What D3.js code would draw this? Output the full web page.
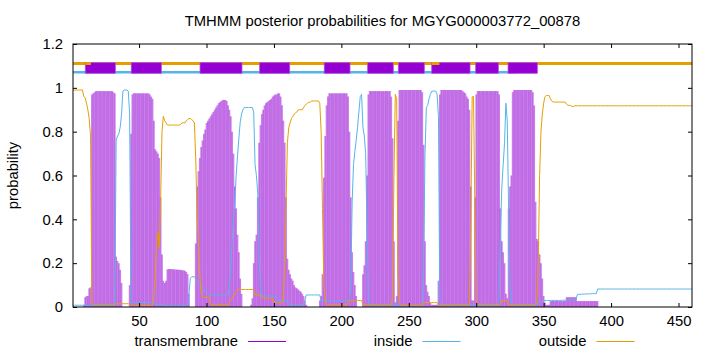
<!DOCTYPE html>
<html><head><meta charset="utf-8">
<script src="https://cdn.jsdelivr.net/npm/d3@7"></script>
<style>
body{margin:0;background:#fff}
svg{display:block}
text{font-family:"Liberation Sans",Arial,Helvetica,sans-serif;fill:#000}
</style>
</head><body>
<svg id="chart" width="720" height="352"></svg>
<script>
// ---------------- data ----------------
const title = "TMHMM posterior probabilities for MGYG000003772_00878";
const yLabel = "probability";
const seriesNames = ["transmembrane", "inside", "outside"];
const xTicks = [50, 100, 150, 200, 250, 300, 350, 400, 450];
const yTicks = [0, 0.2, 0.4, 0.6, 0.8, 1, 1.2];
const yTickLabels = ["0", "0.2", "0.4", "0.6", "0.8", "1", "1.2"];
const xDomain = [1, 460];

// posterior probability of transmembrane, residues 1..460
const tmProb = [
0,0,0,0,0,0,0,0,0.01,0.045,
0.05,0.05,0.085,0.09,0.97,0.975,0.98,0.985,0.985,0.985,
0.985,0.985,0.985,0.985,0.985,0.985,0.985,0.985,0.985,0.985,
0.98,0.975,0.23,0.21,0.2,0.17,0.11,0,0,0,
0,0,0.1,0.79,0.97,0.975,0.975,0.975,0.975,0.975,
0.975,0.975,0.975,0.975,0.975,0.975,0.975,0.97,0.96,0.95,
0.85,0.72,0.71,0.7,0.68,0.5,0.24,0.12,0.11,0.12,
0.172,0.173,0.173,0.173,0.172,0.172,0.171,0.171,0.17,0.17,
0.169,0.168,0.167,0.165,0.16,0.15,0.06,0,0,0,
0,0.29,0.55,0.62,0.68,0.73,0.76,0.79,0.81,0.84,
0.85,0.86,0.87,0.88,0.89,0.9,0.91,0.92,0.93,0.935,
0.94,0.945,0.945,0.945,0.94,0.92,0.9,0.87,0.8,0.7,
0.55,0.45,0.33,0.25,0.13,0.06,0,0,0,0,
0,0,0.01,0.04,0.2,0.3,0.33,0.5,0.75,0.83,
0.88,0.9,0.92,0.93,0.935,0.94,0.945,0.95,0.96,0.965,
0.97,0.97,0.975,0.975,0.96,0.92,0.85,0.75,0.5,0.22,
0.17,0.15,0.13,0.12,0.1,0.09,0.085,0.08,0.075,0.07,
0.06,0.05,0.03,0.01,0,0,0,0,0,0,
0,0,0,0.03,0.05,0.15,0.59,0.78,0.92,0.96,
0.975,0.975,0.975,0.975,0.975,0.975,0.975,0.975,0.975,0.975,
0.975,0.975,0.975,0.975,0.96,0.8,0.5,0.25,0.16,0.1,
0.05,0,0,0,0,0.15,0.19,0.3,0.6,0.97,
0.985,0.985,0.985,0.985,0.985,0.985,0.985,0.985,0.985,0.985,
0.985,0.985,0.985,0.985,0.985,0.985,0.96,0.77,0.3,0.02,
0.05,0.85,0.99,0.99,0.99,0.99,0.99,0.99,0.99,0.99,
0.99,0.99,0.99,0.99,0.99,0.99,0.99,0.99,0.99,0.98,
0.74,0.3,0.1,0.07,0.05,0.02,0.01,0.01,0.01,0.01,
0.01,0.12,0.97,0.99,0.99,0.99,0.99,0.99,0.99,0.99,
0.99,0.99,0.99,0.99,0.99,0.99,0.99,0.99,0.99,0.985,
0.98,0.975,0.96,0.95,0.9,0.55,0.03,0.03,0.5,0.97,
0.985,0.985,0.985,0.985,0.985,0.985,0.985,0.985,0.985,0.985,
0.985,0.985,0.985,0.985,0.985,0.985,0.97,0.45,0.3,0.25,
0.2,0.06,0.04,0.45,0.55,0.6,0.98,0.99,0.99,0.99,
0.99,0.99,0.99,0.99,0.99,0.99,0.99,0.99,0.99,0.99,
0.99,0.98,0.92,0.48,0.31,0.3,0.24,0.2,0.13,0.05,
0.02,0.01,0.01,0.01,0.027,0.027,0.027,0.027,0.027,0.027,
0.027,0.027,0.027,0.027,0.027,0.027,0.045,0.045,0.045,0.045,
0.045,0.045,0.045,0.045,0.027,0.027,0.027,0.027,0.027,0.027,
0.027,0.027,0.027,0.027,0.027,0.027,0.027,0.027,0.027,0.027,
0,0,0,0,0,0,0,0,0,0,
0,0,0,0,0,0,0,0,0,0,
0,0,0,0,0,0,0,0,0,0,
0,0,0,0,0,0,0,0,0,0,
0,0,0,0,0,0,0,0,0,0,
0,0,0,0,0,0,0,0,0,0,
0,0,0,0,0,0,0,0,0,0
];

// posterior probability of inside, residues 1..460
const insideProb = [
0.008,0.008,0.008,0.008,0.008,0.008,0.008,0.008,0.008,0.008,
0.008,0.008,0.008,0.008,0.008,0.008,0.008,0.008,0.008,0.008,
0.008,0.008,0.008,0.008,0.008,0.008,0.008,0.008,0.008,0.008,
0.008,0.01,0.76,0.78,0.79,0.82,0.88,0.985,0.99,0.99,
0.99,0.985,0.88,0.02,0.02,0.02,0.02,0.02,0.02,0.02,
0.02,0.02,0.02,0.02,0.02,0.02,0.02,0.02,0.02,0.02,
0.02,0.012,0.012,0.012,0.012,0.012,0.012,0.006,0.006,0.006,
0.006,0.006,0.006,0.006,0.006,0.006,0.006,0.006,0.006,0.006,
0.006,0.006,0.006,0.006,0.006,0.006,0.06,0.13,0.138,0.138,
0.138,0.13,0.12,0.11,0.1,0.09,0.085,0.08,0.07,0.065,
0.06,0.055,0.055,0.055,0.055,0.055,0.055,0.055,0.055,0.055,
0.055,0.055,0.055,0.055,0.055,0.055,0.1,0.18,0.3,0.4,
0.48,0.6,0.69,0.77,0.845,0.88,0.9,0.91,0.91,0.91,
0.91,0.91,0.91,0.91,0.89,0.65,0.6,0.52,0.23,0.08,
0.05,0.05,0.05,0.05,0.05,0.05,0.05,0.05,0.05,0.05,
0.05,0.03,0.03,0.03,0.03,0.03,0.03,0.03,0.03,0.03,
0.01,0.01,0.01,0.01,0.01,0.01,0.01,0.01,0.01,0.01,
0.01,0.01,0.03,0.055,0.055,0.055,0.055,0.055,0.055,0.055,
0.055,0.055,0.055,0.055,0.028,0.028,0.028,0.028,0.028,0.028,
0.028,0.028,0.028,0.028,0.028,0.028,0.028,0.028,0.028,0.028,
0.028,0.028,0.028,0.028,0.028,0.028,0.1,0.48,0.65,0.71,
0.76,0.82,0.89,0.96,0.97,0.82,0.78,0.7,0.37,0.03,
0.005,0.005,0.005,0.005,0.005,0.005,0.005,0.005,0.005,0.005,
0.005,0.005,0.005,0.005,0.005,0.005,0.005,0.005,0.005,0.02,
0.015,0.005,0.005,0.005,0.005,0.005,0.005,0.005,0.005,0.005,
0.005,0.005,0.005,0.005,0.005,0.005,0.005,0.005,0.005,0.005,
0.2,0.69,0.91,0.92,0.95,0.97,0.985,0.985,0.985,0.985,
0.97,0.87,0.03,0.005,0.005,0.005,0.005,0.005,0.005,0.005,
0.005,0.005,0.005,0.005,0.005,0.005,0.005,0.005,0.005,0.005,
0.005,0.005,0.005,0.005,0.005,0.01,0.01,0.01,0.01,0.01,
0.005,0.005,0.005,0.005,0.005,0.005,0.005,0.005,0.005,0.005,
0.005,0.005,0.005,0.005,0.005,0.005,0.05,0.35,0.55,0.65,
0.75,0.93,0.85,0.45,0.1,0.02,0.005,0.005,0.005,0.005,
0.005,0.005,0.005,0.005,0.005,0.005,0.005,0.005,0.005,0.005,
0.005,0.005,0.005,0.005,0.01,0.02,0.025,0.028,0.029,0.03,
0.03,0.03,0.03,0.03,0.03,0.03,0.03,0.03,0.03,0.03,
0.03,0.03,0.03,0.031,0.031,0.031,0.031,0.032,0.032,0.032,
0.032,0.033,0.033,0.033,0.057,0.058,0.058,0.058,0.059,0.059,
0.059,0.06,0.06,0.06,0.06,0.061,0.061,0.061,0.061,0.082,
0.082,0.082,0.082,0.082,0.082,0.082,0.082,0.082,0.082,0.082,
0.082,0.082,0.082,0.082,0.082,0.082,0.082,0.082,0.082,0.082,
0.082,0.082,0.082,0.082,0.082,0.082,0.082,0.082,0.082,0.082,
0.082,0.082,0.082,0.082,0.082,0.082,0.082,0.082,0.082,0.082,
0.082,0.082,0.082,0.082,0.082,0.082,0.082,0.082,0.082,0.082,
0.082,0.082,0.082,0.082,0.082,0.082,0.082,0.082,0.082,0.082,
0.082,0.082,0.082,0.082,0.082,0.082,0.082,0.082,0.082,0.082
];

// posterior probability of outside, residues 1..460
const outsideProb = [
0.99,0.99,0.99,0.99,0.99,0.99,0.99,0.99,0.96,0.955,
0.93,0.9,0.86,0.78,0.02,0.012,0.012,0.012,0.012,0.012,
0.012,0.012,0.012,0.012,0.012,0.012,0.012,0.012,0.012,0.012,
0.012,0.012,0.015,0.015,0.015,0.015,0.015,0.015,0.015,0.015,
0.015,0.015,0.012,0.008,0.008,0.008,0.008,0.008,0.008,0.008,
0.008,0.008,0.008,0.008,0.008,0.008,0.008,0.008,0.008,0.008,
0.05,0.15,0.3,0.34,0.27,0.5,0.8,0.87,0.85,0.84,
0.83,0.83,0.83,0.83,0.83,0.83,0.83,0.83,0.83,0.83,
0.835,0.84,0.84,0.84,0.85,0.855,0.86,0.86,0.855,0.85,
0.84,0.68,0.42,0.3,0.15,0.07,0.045,0.045,0.045,0.045,
0.045,0.045,0.01,0.01,0.01,0.01,0.01,0.01,0.01,0.01,
0.01,0.01,0.01,0.01,0.01,0.01,0.02,0.03,0.04,0.05,
0.06,0.07,0.08,0.08,0.08,0.08,0.08,0.08,0.08,0.08,
0.08,0.08,0.08,0.08,0.08,0.055,0.055,0.055,0.055,0.055,
0.04,0.04,0.04,0.04,0.04,0.04,0.04,0.04,0.04,0.02,
0.02,0.02,0.02,0.02,0.02,0.02,0.05,0.2,0.48,0.75,
0.82,0.84,0.86,0.87,0.88,0.885,0.89,0.9,0.9,0.9,
0.9,0.91,0.92,0.925,0.93,0.935,0.935,0.94,0.94,0.94,
0.94,0.94,0.94,0.93,0.8,0.45,0.1,0.03,0.01,0.01,
0.01,0.01,0.01,0.01,0.01,0.01,0.01,0.01,0.01,0.01,
0.01,0.01,0.01,0.01,0.03,0.03,0.03,0.03,0.03,0.03,
0.03,0.03,0.03,0.03,0.03,0.01,0.01,0.01,0.01,0.01,
0.01,0.01,0.01,0.01,0.01,0.01,0.01,0.01,0.01,0.01,
0.01,0.01,0.01,0.01,0.01,0.01,0.01,0.05,0.6,0.97,
0.95,0.15,0.02,0.008,0.008,0.008,0.008,0.008,0.008,0.008,
0.008,0.008,0.008,0.008,0.008,0.008,0.008,0.008,0.008,0.008,
0.02,0.02,0.02,0.02,0.02,0.02,0.02,0.02,0.02,0.02,
0.02,0.01,0.01,0.01,0.01,0.01,0.01,0.01,0.01,0.01,
0.01,0.01,0.01,0.01,0.01,0.01,0.01,0.01,0.01,0.01,
0.01,0.01,0.01,0.01,0.01,0.4,0.96,0.96,0.45,0.02,
0.012,0.012,0.012,0.012,0.012,0.012,0.012,0.012,0.012,0.012,
0.012,0.012,0.012,0.012,0.012,0.012,0.012,0.012,0.03,0.03,
0.03,0.03,0.03,0.01,0.01,0.01,0.01,0.01,0.01,0.01,
0.01,0.01,0.01,0.01,0.01,0.01,0.01,0.01,0.01,0.01,
0.01,0.01,0.01,0.01,0.02,0.2,0.6,0.8,0.88,0.93,
0.96,0.965,0.965,0.965,0.95,0.94,0.935,0.935,0.935,0.935,
0.935,0.935,0.935,0.935,0.935,0.935,0.925,0.92,0.92,0.92,
0.915,0.915,0.918,0.918,0.918,0.918,0.918,0.918,0.918,0.918,
0.918,0.918,0.918,0.918,0.918,0.918,0.918,0.918,0.918,0.918,
0.918,0.918,0.918,0.918,0.918,0.918,0.918,0.918,0.918,0.918,
0.918,0.918,0.918,0.918,0.918,0.918,0.918,0.918,0.918,0.918,
0.918,0.918,0.918,0.918,0.918,0.918,0.918,0.918,0.918,0.918,
0.918,0.918,0.918,0.918,0.918,0.918,0.918,0.918,0.918,0.918,
0.918,0.918,0.918,0.918,0.918,0.918,0.918,0.918,0.918,0.918,
0.918,0.918,0.918,0.918,0.918,0.918,0.918,0.918,0.918,0.918,
0.918,0.918,0.918,0.918,0.918,0.918,0.918,0.918,0.918,0.918
];

// predicted topology shown above the curves (residue ranges)
const tmSegments = [[10.1,32.4],[44.2,66.5],[95.2,126.3],[139.4,161.7],[187.3,206.4],
                    [219.5,238.5],[242.2,261.5],[267,295.4],[299.6,316.4],[323.6,345.3]];
const outsideTopRange = [1, 460];
const insideTopRange = [1, 330];
const outsideOverTm = [[10.1,14.3],[238.5,242.2],[267,272.7]];
const outsideTopLevel = 1.111, insideTopLevel = 1.0713, tmBoxTop = 1.1147, tmBoxBottom = 1.0663;

// ---------------- drawing ----------------
const residues = d3.range(1, 461);
const colors = {tm: "#9400d3", inside: "#56b4e9", outside: "#e69f00"};
const margin = {left: 73, right: 28, top: 44, bottom: 45};
const W = 720, H = 352;
const svg = d3.select("#chart");

const x = d3.scaleLinear().domain(xDomain).range([margin.left, W - margin.right]);
const y = d3.scaleLinear().domain([0, 1.2]).range([H - margin.bottom, margin.top]);

// title
svg.append("text").attr("x", (x.range()[0] + x.range()[1]) / 2).attr("y", 26)
  .attr("text-anchor", "middle").style("font-size", "14.8px").text(title);

// y label
svg.append("text").attr("transform", `translate(18,${(y.range()[0] + y.range()[1]) / 2}) rotate(-90)`)
  .attr("text-anchor", "middle").style("font-size", "14.8px").text(yLabel);

// transmembrane impulses
const gTm = svg.append("g");
gTm.selectAll("line").data(residues.filter(r => tmProb[r - 1] > 0)).join("line")
  .attr("x1", r => x(r)).attr("x2", r => x(r))
  .attr("y1", y(0)).attr("y2", r => y(tmProb[r - 1]))
  .attr("stroke", colors.tm).attr("stroke-width", 1.7).attr("stroke-opacity", 0.5);

// inside & outside curves
const line = arr => d3.line().defined(r => arr[r - 1] != null).x(r => x(r)).y(r => y(arr[r - 1]))(residues);
svg.append("path").attr("d", line(insideProb)).attr("fill", "none")
  .attr("stroke", colors.inside).attr("stroke-width", 1);
svg.append("path").attr("d", line(outsideProb)).attr("fill", "none")
  .attr("stroke", colors.outside).attr("stroke-width", 1);

// topology strip
svg.append("line").attr("x1", x(outsideTopRange[0])).attr("x2", x(outsideTopRange[1]))
  .attr("y1", y(outsideTopLevel)).attr("y2", y(outsideTopLevel))
  .attr("stroke", colors.outside).attr("stroke-width", 3);
svg.append("line").attr("x1", x(insideTopRange[0])).attr("x2", x(insideTopRange[1]))
  .attr("y1", y(insideTopLevel)).attr("y2", y(insideTopLevel))
  .attr("stroke", colors.inside).attr("stroke-width", 2.5);
svg.append("g").selectAll("rect").data(tmSegments).join("rect")
  .attr("x", d => x(d[0])).attr("width", d => x(d[1]) - x(d[0]))
  .attr("y", y(tmBoxTop)).attr("height", y(tmBoxBottom) - y(tmBoxTop))
  .attr("fill", colors.tm).attr("stroke", "#b44ee0").attr("stroke-width", 0.8);
svg.append("g").selectAll("line").data(outsideOverTm).join("line")
  .attr("x1", d => x(d[0])).attr("x2", d => x(d[1]))
  .attr("y1", y(outsideTopLevel)).attr("y2", y(outsideTopLevel))
  .attr("stroke", colors.outside).attr("stroke-width", 3);

// frame
svg.append("rect").attr("x", x.range()[0]).attr("y", y.range()[1])
  .attr("width", x.range()[1] - x.range()[0]).attr("height", y.range()[0] - y.range()[1])
  .attr("fill", "none").attr("stroke", "#000").attr("stroke-width", 1);

// axes (ticks inward, mirrored)
const fs = "14.8px";
const axB = svg.append("g").attr("transform", `translate(0,${y(0)})`)
  .call(d3.axisBottom(x).tickValues(xTicks).tickSize(-4).tickPadding(8).tickFormat(d3.format("d")));
const axT = svg.append("g").attr("transform", `translate(0,${y(1.2)})`)
  .call(d3.axisTop(x).tickValues(xTicks).tickSize(-4).tickFormat(""));
const axL = svg.append("g").attr("transform", `translate(${x(xDomain[0])},0)`)
  .call(d3.axisLeft(y).tickValues(yTicks).tickSize(-4).tickPadding(10).tickFormat((d, i) => yTickLabels[i]));
const axR = svg.append("g").attr("transform", `translate(${x(xDomain[1])},0)`)
  .call(d3.axisRight(y).tickValues(yTicks).tickSize(-4).tickFormat(""));
[axB, axT, axL, axR].forEach(a => {
  a.select(".domain").remove();
  a.selectAll(".tick line").attr("stroke", "#000");
  a.selectAll("text").style("font-size", fs).attr("font-family", null).attr("fill", "#000");
});
axB.selectAll("text").attr("dy", "0.71em");

// legend
const legendX = [238, 412.5, 586.5];
const legendColors = [colors.tm, colors.inside, colors.outside];
const lg = svg.append("g");
seriesNames.forEach((name, i) => {
  lg.append("text").attr("x", legendX[i]).attr("y", 346).attr("text-anchor", "end")
    .style("font-size", fs).text(name);
  lg.append("line").attr("x1", legendX[i] + 10).attr("x2", legendX[i] + 48)
    .attr("y1", 341.5).attr("y2", 341.5).attr("stroke", legendColors[i]).attr("stroke-width", 1);
});
</script>
</body></html>
